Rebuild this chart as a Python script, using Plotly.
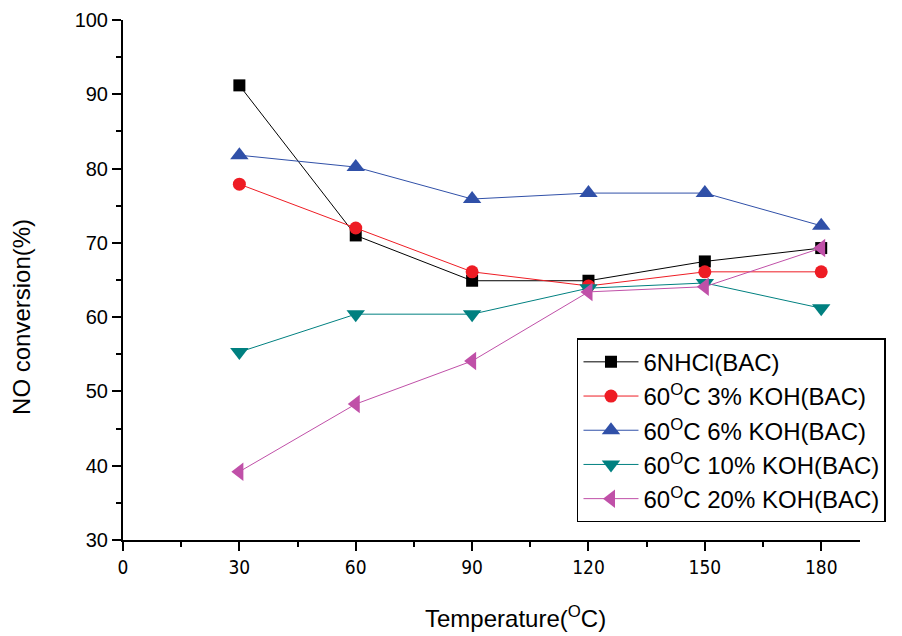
import plotly.graph_objects as go

temps = [30, 60, 90, 120, 150, 180]
hcl_6n = [91.2, 71.0, 64.9, 64.9, 67.5, 69.3]
koh_3 = [77.9, 72.0, 66.1, 64.2, 66.1, 66.1]
koh_6 = [81.8, 80.2, 75.9, 76.7, 76.7, 72.3]
koh_10 = [55.3, 60.4, 60.4, 63.9, 64.6, 61.2]
koh_20 = [39.2, 48.3, 54.1, 63.4, 64.1, 69.3]

names = ["6NHCl(BAC)", "60<sup>O</sup>C 3% KOH(BAC)", "60<sup>O</sup>C 6% KOH(BAC)",
         "60<sup>O</sup>C 10% KOH(BAC)", "60<sup>O</sup>C 20% KOH(BAC)"]
series = [hcl_6n, koh_3, koh_6, koh_10, koh_20]
colors = ["#000000", "#ee1c24", "#3050a8", "#008080", "#c050a8"]
symbols = ["square", "circle", "triangle-up", "triangle-down", "triangle-left"]
sizes = [12, 13, 16, 16, 16]

narrow = "DejaVu Sans Condensed, Liberation Sans Narrow, Arial Narrow, sans-serif"
arial = "Liberation Sans, Arial, sans-serif"

fig = go.Figure()
for n, s, c, sym, sz in zip(names, series, colors, symbols, sizes):
    fig.add_trace(go.Scatter(x=temps, y=s, name=n, mode="lines+markers",
                             line=dict(color=c, width=1),
                             marker=dict(symbol=sym, size=sz, color=c)))

axis_common = dict(showgrid=False, zeroline=False, showline=True, linecolor="black",
                   linewidth=2, ticks="outside", ticklen=9, tickwidth=1.5, tickcolor="black",
                   automargin=False)
fig.update_xaxes(range=[0, 190], tickvals=[0, 30, 60, 90, 120, 150, 180],
                 minor=dict(tickvals=[15, 45, 75, 105, 135, 165], ticks="outside", ticklen=5,
                            tickcolor="black", tickwidth=1.5),
                 tickfont=dict(family=narrow, size=19, color="black"),
                 **axis_common)
fig.update_yaxes(range=[30, 100], tickvals=[30, 40, 50, 60, 70, 80, 90, 100],
                 minor=dict(tickvals=[35, 45, 55, 65, 75, 85, 95], ticks="outside", ticklen=5,
                            tickcolor="black", tickwidth=1.5),
                 tickfont=dict(family=arial, size=20, color="black"),
                 **axis_common)

fig.add_annotation(text="NO conversion(%)", textangle=-90, showarrow=False,
                   xref="paper", yref="paper", x=-0.137, y=0.429,
                   xanchor="center", yanchor="middle",
                   font=dict(family=arial, size=24, color="black"))
fig.add_annotation(text="Temperature(<sup>O</sup>C)", showarrow=False,
                   xref="paper", yref="paper", x=0.533, y=-0.148,
                   xanchor="center", yanchor="middle",
                   font=dict(family=arial, size=24, color="black"))

fig.update_layout(
    width=902, height=636,
    margin=dict(l=123, r=42, t=20, b=96),
    plot_bgcolor="white", paper_bgcolor="white",
    legend=dict(x=0.616, y=0.388, xanchor="left", yanchor="top",
                bordercolor="black", borderwidth=1.5, bgcolor="white",
                font=dict(family=arial, size=24, color="black"),
                itemwidth=55, tracegroupgap=0),
)

fig.write_html("out.html")
